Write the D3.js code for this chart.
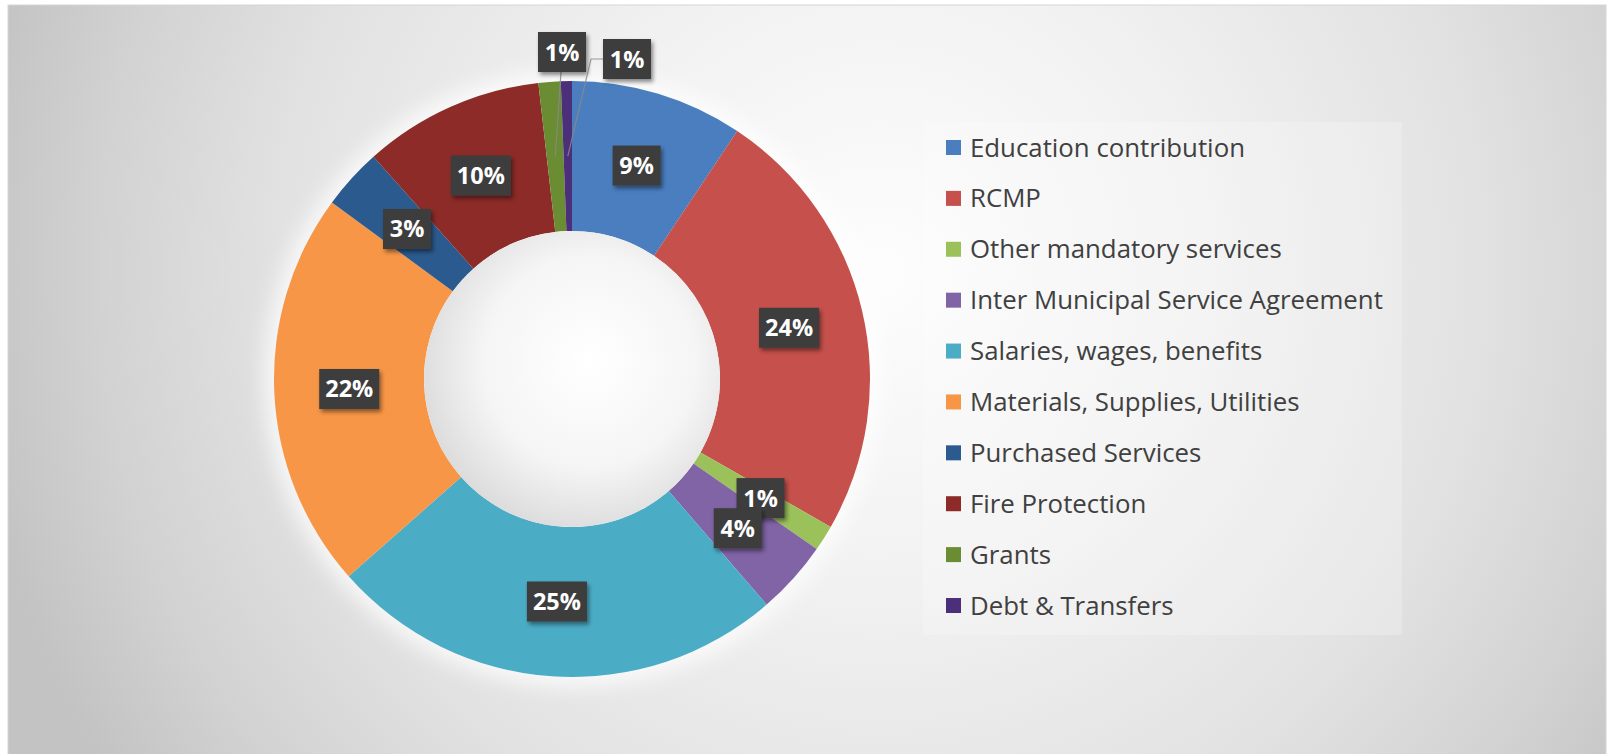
<!DOCTYPE html>
<html>
<head>
<meta charset="utf-8">
<script src="https://cdn.jsdelivr.net/npm/d3@7"></script>
<style>
  html, body { margin: 0; padding: 0; background: #ffffff; }
  svg { display: block; }
</style>
</head>
<body>
<svg id="chart" width="1612" height="754"></svg>
<script>
// ---- data ----
const categories = [
  "Education contribution",
  "RCMP",
  "Other mandatory services",
  "Inter Municipal Service Agreement",
  "Salaries, wages, benefits",
  "Materials, Supplies, Utilities",
  "Purchased Services",
  "Fire Protection",
  "Grants",
  "Debt & Transfers"
];
const values = [9.35, 23.9, 1.4, 4.0, 24.8, 21.6, 3.3, 9.8, 1.2, 0.6];
const colors = [
  "#4a7ebf", "#c6504c", "#9bc25a", "#8064a6", "#4bacc6",
  "#f79646", "#2b5a8e", "#8c2b28", "#6a8c33", "#4b2f7a"
];
// labels that Excel moved outside the ring (offset from donut centre)
const calloutNames = ["Grants", "Debt & Transfers"];
const calloutOffsets = [[-10, -327], [55, -320]];

// ---- layout ----
const W = 1612, H = 754;
const cx = 572, cy = 379, R = 298, r0 = 148;
const svg = d3.select("#chart");
const defs = svg.append("defs");

const bg = defs.append("radialGradient").attr("id", "bgGrad")
  .attr("gradientUnits", "userSpaceOnUse")
  .attr("cx", 880).attr("cy", 270).attr("r", 920);
[[0, "#fdfdfd"], [0.35, "#f1f1f1"], [0.65, "#e2e2e2"], [0.85, "#d2d2d2"], [1, "#c3c3c3"]]
  .forEach(([o, c]) => bg.append("stop").attr("offset", o).attr("stop-color", c));

const hole = defs.append("radialGradient").attr("id", "holeGrad")
  .attr("cx", 0.56).attr("cy", 0.44).attr("r", 0.6);
[[0, "#ffffff"], [0.6, "#f5f5f5"], [1, "#dadada"]]
  .forEach(([o, c]) => hole.append("stop").attr("offset", o).attr("stop-color", c));

const glow = defs.append("filter").attr("id", "glow")
  .attr("x", "-20%").attr("y", "-20%").attr("width", "140%").attr("height", "140%");
glow.append("feGaussianBlur").attr("stdDeviation", 10);

const shadow = defs.append("filter").attr("id", "boxShadow")
  .attr("x", "-30%").attr("y", "-30%").attr("width", "160%").attr("height", "160%");
shadow.append("feDropShadow").attr("dx", 2).attr("dy", 3)
  .attr("stdDeviation", 2).attr("flood-color", "#000").attr("flood-opacity", 0.45);

// chart area background
svg.append("rect").attr("x", 8).attr("y", 5).attr("width", W - 14).attr("height", H)
  .attr("fill", "url(#bgGrad)").attr("stroke", "#d6d6d6").attr("stroke-width", 1);

// glow behind donut
svg.append("circle").attr("cx", cx).attr("cy", cy).attr("r", R + 10)
  .attr("fill", "#ffffff").attr("opacity", 0.75).attr("filter", "url(#glow)");

const data = categories.map((c, i) => ({ name: c, value: values[i], color: colors[i] }));
const pie = d3.pie().value(d => d.value).sort(null).startAngle(0).endAngle(2 * Math.PI);
const arcs = pie(data);
const arc = d3.arc().innerRadius(r0).outerRadius(R);
const total = d3.sum(values);

const g = svg.append("g").attr("transform", `translate(${cx},${cy})`);

g.selectAll("path.slice").data(arcs).join("path")
  .attr("class", "slice")
  .attr("d", arc)
  .attr("fill", d => d.data.color);

// hole shading
g.append("circle").attr("r", r0).attr("fill", "url(#holeGrad)");

// ---- data labels ----
const labelFont = "'Open Sans', 'Liberation Sans', sans-serif";
const lg = g.append("g");

arcs.forEach(d => {
  const txt = Math.round(d.data.value / total * 100) + "%";
  const [mx, my] = arc.centroid(d);
  const ci = calloutNames.indexOf(d.data.name);
  let lx = mx, ly = my;
  if (ci >= 0) { lx = calloutOffsets[ci][0]; ly = calloutOffsets[ci][1]; }

  const w = txt.length === 2 ? 48 : 60, h = 40;

  if (ci >= 0) {
    let pts;
    if (ci === 0) {
      pts = [[lx - 1, ly + h / 2], [mx, my]];
    } else {
      pts = [[lx - w / 2, ly], [lx - w / 2 - 12, ly], [mx, my]];
    }
    lg.append("path").attr("d", d3.line()(pts))
      .attr("fill", "none").attr("stroke", "#8a8a8a").attr("stroke-width", 1.2)
      .attr("opacity", 0.85);
  }

  const lab = lg.append("g").attr("transform", `translate(${lx},${ly})`);
  lab.append("rect").attr("x", -w / 2).attr("y", -h / 2).attr("width", w).attr("height", h)
    .attr("fill", "#3d3d3d").attr("filter", "url(#boxShadow)");
  lab.append("text").attr("x", 0).attr("y", 8.5)
    .attr("text-anchor", "middle")
    .attr("font-family", labelFont).attr("font-weight", "bold").attr("font-size", 23.5)
    .attr("fill", "#ffffff")
    .text(txt);
});

// ---- legend ----
const legX = 923, legY = 122, legW = 479, legH = 513;
svg.append("rect").attr("x", legX).attr("y", legY).attr("width", legW).attr("height", legH)
  .attr("fill", "#ffffff").attr("opacity", 0.22);

const rowY = d3.scalePoint().domain(categories).range([147.5, 605.5]);
const leg = svg.append("g");
const items = leg.selectAll("g").data(data).join("g")
  .attr("transform", d => `translate(946,${rowY(d.name)})`);
items.append("rect").attr("x", 0).attr("y", -7.5).attr("width", 15).attr("height", 15)
  .attr("fill", d => d.color);
items.append("text").attr("x", 24).attr("y", 9)
  .attr("font-family", labelFont).attr("font-size", 25.8)
  .attr("fill", "#404040")
  .text(d => d.name);
</script>
</body>
</html>
